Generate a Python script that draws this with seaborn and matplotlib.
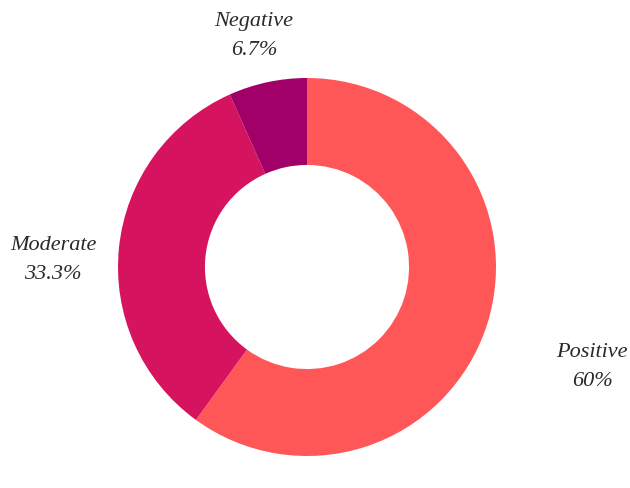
import matplotlib
matplotlib.use("Agg")
import matplotlib.pyplot as plt
import seaborn as sns

categories = ["Positive", "Moderate", "Negative"]
values = [60.0, 33.3, 6.7]
labels_pct = ["60%", "33.3%", "6.7%"]
colors = ["#FF5757", "#D5135F", "#A00067"]

sns.set_theme(style="white")
plt.rcParams["font.family"] = ["Liberation Serif", "DejaVu Serif"]

fig = plt.figure(figsize=(6.30, 4.88), dpi=100)
ax = fig.add_axes([0, 0, 1, 1])

cx, cy = 307, 488 - 267
R = 189
ax.pie(values, colors=colors, startangle=90, counterclock=False,
       center=(cx, cy), radius=R,
       wedgeprops=dict(width=R * 0.46, edgecolor="none"), frame=True)
ax.set_xlim(0, 630)
ax.set_ylim(0, 488)
ax.set_aspect("equal")
ax.axis("off")

label_pos = {"Positive": (592, 488 - 367), "Moderate": (53, 488 - 260), "Negative": (254, 488 - 36)}
for cat, pct in zip(categories, labels_pct):
    x, y = label_pos[cat]
    ax.text(x, y, f"{cat}\n{pct}", ha="center", va="center", fontsize=16,
            style="italic", color="#2a2a2a", linespacing=1.7)

fig.savefig("out.png", dpi=100)
